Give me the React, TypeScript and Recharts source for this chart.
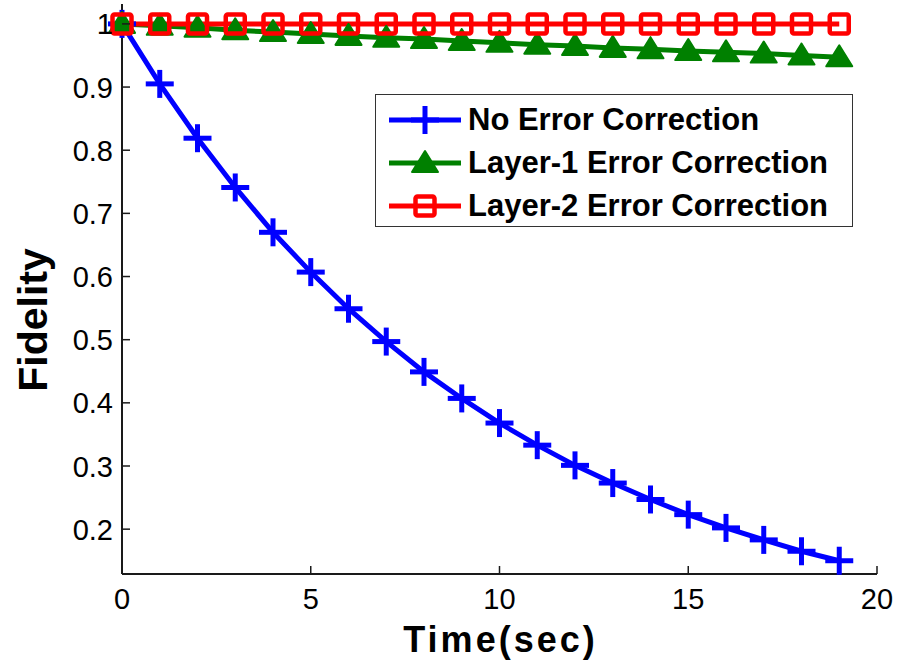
import React from 'react';
import { LineChart, Line, XAxis, YAxis, Legend } from 'recharts';

const times = [0, 1, 2, 3, 4, 5, 6, 7, 8, 9, 10, 11, 12, 13, 14, 15, 16, 17, 18, 19];
const noCorrection = [1.0, 0.905, 0.819, 0.741, 0.67, 0.607, 0.549, 0.497, 0.449, 0.407, 0.368, 0.333, 0.301, 0.273, 0.247, 0.223, 0.202, 0.183, 0.165, 0.15];
const layer1 = [1.0, 0.997, 0.994, 0.99, 0.987, 0.984, 0.981, 0.978, 0.976, 0.973, 0.97, 0.967, 0.965, 0.962, 0.96, 0.957, 0.955, 0.953, 0.95, 0.947];
const layer2 = [1.0, 1.0, 1.0, 1.0, 1.0, 1.0, 1.0, 1.0, 1.0, 1.0, 1.0, 1.0, 1.0, 1.0, 1.0, 1.0, 1.0, 1.0, 1.0, 1.0];
const seriesNames = ['No Error Correction', 'Layer-1 Error Correction', 'Layer-2 Error Correction'];
const xTicks = [0, 5, 10, 15, 20];
const yTicks = [0.2, 0.3, 0.4, 0.5, 0.6, 0.7, 0.8, 0.9, 1];
const xDomain = [0, 20];
const yDomain = [0.129, 1.0315];

const data = times.map((t, i) => ({ t, none: noCorrection[i], l1: layer1[i], l2: layer2[i] }));

const FONT = '"Liberation Sans", Arial, Helvetica, sans-serif';
const BLUE = '#0000FF';
const GREEN = '#008000';
const RED = '#FF0000';
const AX = '#1a1a1a';
const TICK_LEN = 8;

const fmt = (v: number) => (v === 1 ? '1' : String(v));

const BottomTick = (props: any) => {
  const { x, y, payload } = props;
  return (
    <g>
      <line x1={x} y1={y} x2={x} y2={y - TICK_LEN} stroke={AX} strokeWidth={1.5} />
      <text x={x} y={y + 35} textAnchor="middle" fontSize={29} fontFamily={FONT} fill="#000">
        {payload.value}
      </text>
    </g>
  );
};
const TopTick = (props: any) => {
  const { x, y } = props;
  return <line x1={x} y1={y} x2={x} y2={y + TICK_LEN} stroke={AX} strokeWidth={1.5} />;
};
const LeftTick = (props: any) => {
  const { x, y, payload } = props;
  return (
    <g>
      <line x1={x} y1={y} x2={x + TICK_LEN} y2={y} stroke={AX} strokeWidth={1.5} />
      <text x={x - 9} y={y + 10.5} textAnchor="end" fontSize={29} fontFamily={FONT} fill="#000">
        {fmt(payload.value)}
      </text>
    </g>
  );
};
const RightTick = (props: any) => {
  const { x, y } = props;
  return <line x1={x} y1={y} x2={x - TICK_LEN} y2={y} stroke={AX} strokeWidth={1.5} />;
};

const PlusMark = ({ cx, cy, color, size = 14 }: any) => (
  <g>
    <line x1={cx - size} y1={cy} x2={cx + size} y2={cy} stroke={color} strokeWidth={5} />
    <line x1={cx} y1={cy - size} x2={cx} y2={cy + size} stroke={color} strokeWidth={5} />
  </g>
);
const TriMark = ({ cx, cy, color }: any) => (
  <polygon
    points={`${cx},${cy - 12} ${cx - 13},${cy + 9} ${cx + 13},${cy + 9}`}
    fill={color}
    stroke={color}
    strokeWidth={2}
    strokeLinejoin="round"
  />
);
const SquareMark = ({ cx, cy, color }: any) => (
  <rect x={cx - 9.5} y={cy - 9.5} width={19} height={19} rx={2} fill="none" stroke={color} strokeWidth={4.5} />
);

const markerFor: Record<string, any> = { none: PlusMark, l1: TriMark, l2: SquareMark };
const legendOrder = ['none', 'l1', 'l2'];

const makeDot = (key: string, color: string) => (props: any) => {
  const M = markerFor[key];
  if (props.cx == null || props.cy == null) return <g key={`${key}-${props.index}`} />;
  return (
    <g key={`${key}-${props.index}`}>
      <M cx={props.cx} cy={props.cy} color={color} />
    </g>
  );
};

const LegendBox = (props: any) => {
  const payload = [...(props.payload || [])].sort(
    (a: any, b: any) => legendOrder.indexOf(a.dataKey) - legendOrder.indexOf(b.dataKey)
  );
  return (
    <div
      style={{
        width: 478,
        height: 133,
        boxSizing: 'border-box',
        border: '1.5px solid #333',
        background: '#fff',
        position: 'relative',
      }}
    >
      {payload.map((e: any, i: number) => {
        const M = markerFor[e.dataKey];
        return (
          <div
            key={e.value}
            style={{ position: 'absolute', left: 0, top: 5 + i * 43, height: 40, display: 'flex', alignItems: 'center' }}
          >
            <svg width={92} height={40} style={{ display: 'block' }}>
              <line x1={13} x2={85} y1={20} y2={20} stroke={e.color} strokeWidth={5} />
              <M cx={49} cy={20} color={e.color} />
            </svg>
            <span style={{ fontFamily: FONT, fontWeight: 'bold', fontSize: 31, color: '#000', whiteSpace: 'nowrap' }}>
              {e.value}
            </span>
          </div>
        );
      })}
    </div>
  );
};

export default function App() {
  return (
    <div style={{ position: 'absolute', left: 0, top: 0, width: 898, height: 667, background: '#fff' }}>
      <LineChart width={898} height={667} data={data} margin={{ top: 4, right: 21, bottom: 0, left: 0 }}>
        <XAxis
          dataKey="t"
          type="number"
          domain={xDomain}
          ticks={xTicks}
          height={93}
          tickSize={0}
          tickMargin={0}
          tick={BottomTick}
          axisLine={{ stroke: AX, strokeWidth: 2 }}
          label={{
            content: (p: any) => {
              const vb = p.viewBox;
              return (
                <text
                  x={vb.x + vb.width / 2 + 1}
                  y={vb.y + 78}
                  textAnchor="middle"
                  fontSize={36}
                  letterSpacing={3}
                  fontWeight="bold"
                  fontFamily={FONT}
                  fill="#000"
                >
                  Time(sec)
                </text>
              );
            },
          }}
        />
        <XAxis
          xAxisId="top"
          orientation="top"
          dataKey="t"
          type="number"
          domain={xDomain}
          ticks={xTicks}
          height={0}
          tickSize={0}
          tickMargin={0}
          tick={TopTick}
          axisLine={{ stroke: AX, strokeWidth: 2 }}
        />
        <YAxis
          type="number"
          domain={yDomain}
          ticks={yTicks}
          width={122}
          tickSize={0}
          tickMargin={0}
          tick={LeftTick}
          axisLine={{ stroke: AX, strokeWidth: 2 }}
          label={{
            content: (p: any) => {
              const vb = p.viewBox;
              const cx = vb.x + 47;
              const cy = vb.y + 316;
              return (
                <text
                  x={cx}
                  y={cy}
                  transform={`rotate(-90 ${cx} ${cy})`}
                  textAnchor="middle"
                  fontSize={41}
                  fontWeight="bold"
                  fontFamily={FONT}
                  fill="#000"
                >
                  Fidelity
                </text>
              );
            },
          }}
        />
        <YAxis
          yAxisId="right"
          orientation="right"
          type="number"
          domain={yDomain}
          ticks={yTicks}
          width={0}
          tickSize={0}
          tickMargin={0}
          tick={RightTick}
          axisLine={{ stroke: AX, strokeWidth: 2 }}
        />
        <Legend
          layout="horizontal"
          verticalAlign="middle"
          align="center"
          content={LegendBox}
          wrapperStyle={{ position: 'absolute', left: 375, top: 94, width: 478, height: 133 }}
        />
        <Line
          dataKey="none"
          name={seriesNames[0]}
          stroke={BLUE}
          strokeWidth={5}
          dot={makeDot('none', BLUE)}
          activeDot={false}
          isAnimationActive={false}
        />
        <Line
          dataKey="l1"
          name={seriesNames[1]}
          stroke={GREEN}
          strokeWidth={5}
          dot={makeDot('l1', GREEN)}
          activeDot={false}
          isAnimationActive={false}
        />
        <Line
          dataKey="l2"
          name={seriesNames[2]}
          stroke={RED}
          strokeWidth={5}
          dot={makeDot('l2', RED)}
          activeDot={false}
          isAnimationActive={false}
        />
      </LineChart>
    </div>
  );
}
